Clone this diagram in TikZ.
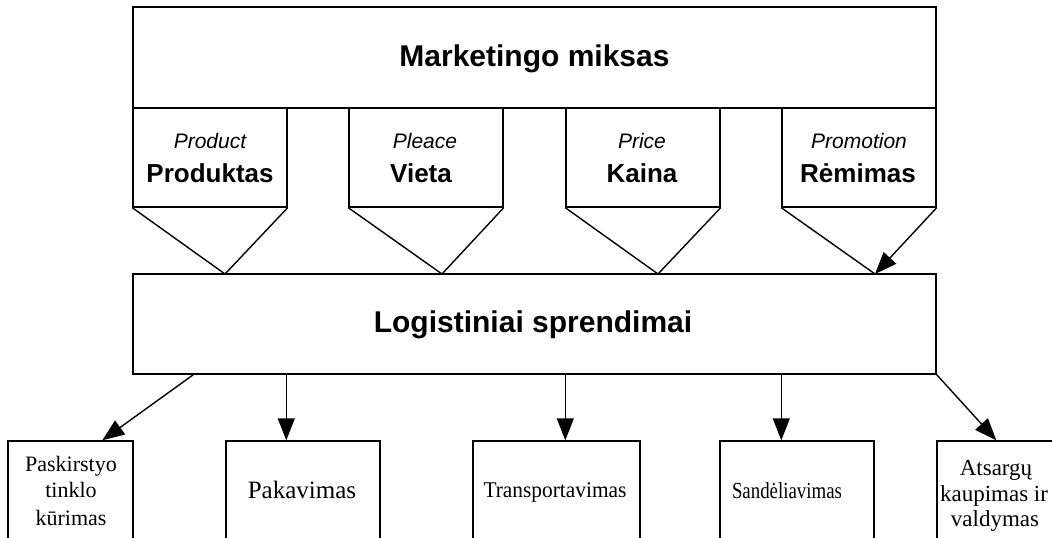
\documentclass[tikz,border=0pt]{standalone}
\usepackage{fontspec}
\setmainfont{Liberation Serif}
\newfontfamily\arialf{Liberation Sans}
\usetikzlibrary{arrows.meta}
\begin{document}
\begin{tikzpicture}[x=1pt,y=-1pt,
  box/.style={draw, line width=1.4pt, inner sep=0pt, fill=white},
  conn/.style={line width=1.4pt, -{Triangle[length=22pt,width=17pt]}},
  edgeline/.style={line width=1.4pt, line join=miter},
  big/.style={font=\arialf\bfseries\fontsize{30}{36}\selectfont, anchor=base, inner sep=0pt},
  en/.style={font=\arialf\itshape\fontsize{21}{25}\selectfont, anchor=base, inner sep=0pt},
  lt/.style={font=\arialf\bfseries\fontsize{26}{30}\selectfont, anchor=base, inner sep=0pt},
  sv/.style={font=\fontsize{22}{26}\selectfont, anchor=base, inner sep=0pt}]
\useasboundingbox (0,0) rectangle (1052,538);
\clip (0,0) rectangle (1052,538);
% header
\node[box, minimum width=803pt, minimum height=101pt] (mm) at (534.5,57.5) {};
\node[big] (mmt) at (534.5,66) {Marketingo miksas};
% pentagons
\node[box, minimum width=154pt, minimum height=99pt] (p1) at (210,157.5) {};
\node[box, minimum width=154pt, minimum height=99pt] (p2) at (426,157.5) {};
\node[box, minimum width=154pt, minimum height=99pt] (p3) at (643,157.5) {};
\node[box, minimum width=154pt, minimum height=99pt] (p4) at (859,157.5) {};
\coordinate (t1) at (225,274);
\coordinate (t2) at (442,274);
\coordinate (t3) at (658,274);
\coordinate (t4) at (875,274);
\draw[edgeline] (p1.south west) -- (t1) -- (p1.south east);
\draw[edgeline] (p2.south west) -- (t2) -- (p2.south east);
\draw[edgeline] (p3.south west) -- (t3) -- (p3.south east);
\draw[edgeline] (p4.south west) -- (t4);
\draw[conn] (p4.south east) -- (t4);
\node[en] (e1) at (210,148) {Product};
\node[lt] (l1) at (210,182) {Produktas};
\node[en] (e2) at (425,148) {Pleace};
\node[lt] (l2) at (421,182) {Vieta};
\node[en] (e3) at (642,148) {Price};
\node[lt] (l3) at (642,182) {Kaina};
\node[en] (e4) at (859,148) {Promotion};
\node[lt] (l4) at (858,182) {Rėmimas};
% logistics
\node[box, minimum width=803pt, minimum height=100pt] (ls) at (534.5,324) {};
\node[big] (lst) at (533,332) {Logistiniai sprendimai};
% bottom boxes
\node[box, minimum width=125pt, minimum height=140pt] (b1) at (70.5,511) {};
\node[box, minimum width=154pt, minimum height=140pt] (b2) at (303,511) {};
\node[box, minimum width=167pt, minimum height=140pt] (b3) at (556.5,511) {};
\node[box, minimum width=154pt, minimum height=140pt] (b4) at (797,511) {};
\node[box, minimum width=143pt, minimum height=140pt] (b5) at (1008.5,511) {};
\draw[conn] ([xshift=61pt]ls.south west) -- ([xshift=95pt]b1.north west);
\draw[conn] ([xshift=154pt]ls.south west) -- ([xshift=61pt]b2.north west);
\draw[conn] ([xshift=433pt]ls.south west) -- ([xshift=93pt]b3.north west);
\draw[conn] ([xshift=649pt]ls.south west) -- ([xshift=62pt]b4.north west);
\draw[conn] (ls.south east) -- ([xshift=60pt]b5.north west);
% bottom texts
\node[sv] (x1a) at (71,471) {Paskirstyo};
\node[sv] (x1b) at (71,497) {tinklo};
\node[sv] (x1c) at (71,525) {kūrimas};
\node[sv, font=\fontsize{25}{30}\selectfont] (x2) at (302,498) {Pakavimas};
\node[sv, font=\fontsize{22.5}{26}\selectfont] (x3) at (555,497) {\scalebox{0.95}[1]{Transportavimas}};
\node[sv, font=\fontsize{23}{26}\selectfont] (x4) at (787,498) {\scalebox{0.82}[1]{Sandėliavimas}};
\node[sv, font=\fontsize{23}{27}\selectfont] (x5a) at (996,475) {Atsargų};
\node[sv, font=\fontsize{23}{27}\selectfont] (x5b) at (994,501) {kaupimas ir};
\node[sv, font=\fontsize{23}{27}\selectfont] (x5c) at (995,526) {valdymas};
\end{tikzpicture}
\end{document}
